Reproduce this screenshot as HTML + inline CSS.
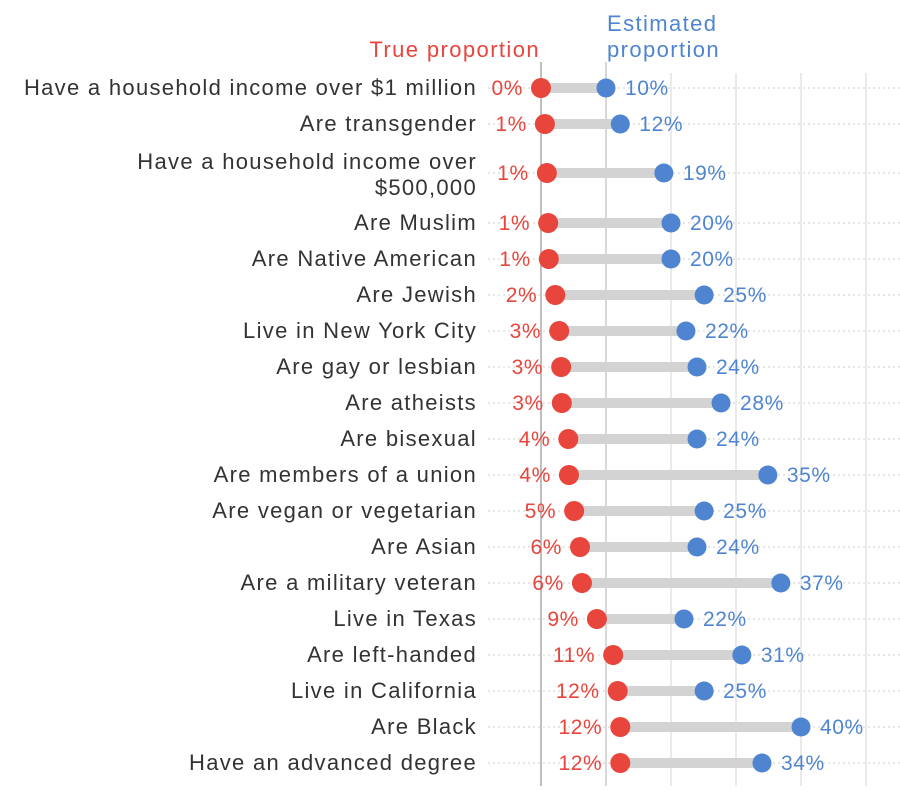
<!DOCTYPE html>
<html><head><meta charset="utf-8"><style>
body{margin:0;background:#fff;}
svg text{font-family:"Liberation Sans",sans-serif;}
</style></head><body>
<svg id="chart" width="900" height="786" xmlns="http://www.w3.org/2000/svg"></svg>
<script>
const categories=["Have a household income over $1 million","Are transgender","Have a household income over|$500,000","Are Muslim","Are Native American","Are Jewish","Live in New York City","Are gay or lesbian","Are atheists","Are bisexual","Are members of a union","Are vegan or vegetarian","Are Asian","Are a military veteran","Live in Texas","Are left-handed","Live in California","Are Black","Have an advanced degree"];
const trueValues=[0,0.6,0.9,1.1,1.2,2.2,2.8,3.1,3.2,4.2,4.3,5.1,6.0,6.3,8.6,11.1,11.8,12.2,12.2];
const trueLabels=["0%","1%","1%","1%","1%","2%","3%","3%","3%","4%","4%","5%","6%","6%","9%","11%","12%","12%","12%"];
const estValues=[10,12.2,18.9,20,20,25.1,22.3,24,27.7,24,34.9,25.1,24,36.9,22,30.9,25.1,40,34];
const estLabels=["10%","12%","19%","20%","20%","25%","22%","24%","28%","24%","35%","25%","24%","37%","22%","31%","25%","40%","34%"];
const gridTicks=[0,10,20,30,40,50];

const svg=document.getElementById('chart');
const NS='http://www.w3.org/2000/svg';
const x=v=>541+v*6.5;
const rowY=[];let yy=88;
categories.forEach((c,i)=>{rowY.push(yy);yy+=(i===1?49:(i===2?50:36));});
const y=i=>rowY[i];
function mk(tag,attrs,parent){const e=document.createElementNS(NS,tag);for(const k in attrs)e.setAttribute(k,attrs[k]);(parent||svg).appendChild(e);return e;}

gridTicks.forEach((t,i)=>{
  const l=mk('line',{x1:x(t),x2:x(t),y1:i<2?62:73,y2:786,stroke:i===0?'#aaa':(i===1?'#ccc':'#e4e4e4'),'stroke-width':1.5});
  
  
});
const h1=mk('text',{x:x(0)-1,y:57,'text-anchor':'end',fill:'#e8453c','font-size':22,'letter-spacing':1.4});h1.textContent='True proportion';


const h2=mk('text',{x:x(10),y:31,fill:'#4f85d0','font-size':22,'letter-spacing':1.4});


['Estimated','proportion'].forEach((s,k)=>{const t=mk('tspan',{x:x(10)+1,y:31+26*k},h2);t.textContent=s;});

categories.forEach((c,i)=>{
  const cy=y(i);
  const g=mk('g',{});
  
  
  const d=mk('line',{x1:488,x2:900,y1:cy,y2:cy,stroke:'#d8d8d8','stroke-width':1.2,'stroke-dasharray':'2,3'},g);
  
  
  const parts=c.split('|');
  const lab=mk('text',{x:477,y:cy+7,'text-anchor':'end',fill:'#333','font-size':22,'letter-spacing':1.3},g);
  
  
  parts.forEach((p,k)=>{const t=mk('tspan',{x:477,y:cy+7+(k-(parts.length-1)/2)*26+(parts.length>1?2:0)},lab);t.textContent=p;});
  const bar=mk('line',{x1:x(trueValues[i]),x2:x(estValues[i]),y1:cy,y2:cy,stroke:'#d3d3d3','stroke-width':10},g);
  
  
  const rc=mk('circle',{cx:x(trueValues[i]),cy:cy,r:10,fill:'#e8453c'},g);
  
  
  const bc=mk('circle',{cx:x(estValues[i]),cy:cy,r:9.5,fill:'#4f85d0'},g);
  
  
  const rt=mk('text',{x:x(trueValues[i])-18,y:cy+7,'text-anchor':'end',fill:'#e8453c','font-size':21,'letter-spacing':0.6},g);rt.textContent=trueLabels[i];
  
  
  const bt=mk('text',{x:x(estValues[i])+19,y:cy+7,fill:'#4f85d0','font-size':21,'letter-spacing':0.6},g);bt.textContent=estLabels[i];
  
  
});
</script>
</body></html>
